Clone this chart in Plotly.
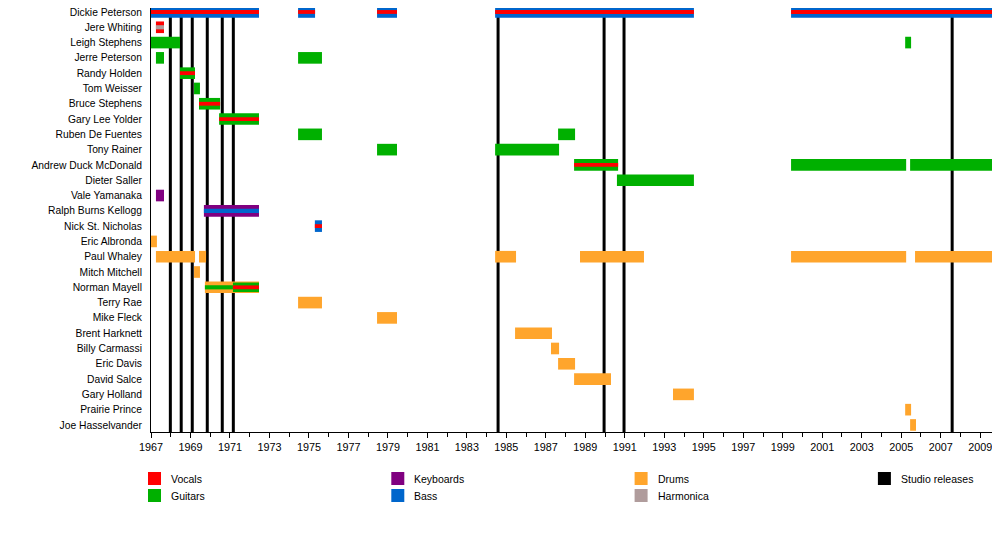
"""
Blue Cheer band member timeline, drawn as a horizontal bar timeline.
"""

import plotly.graph_objects as go

# Data

members = [
    "Dickie Peterson", "Jere Whiting", "Leigh Stephens", "Jerre Peterson",
    "Randy Holden", "Tom Weisser", "Bruce Stephens", "Gary Lee Yolder",
    "Ruben De Fuentes", "Tony Rainer", "Andrew Duck McDonald", "Dieter Saller",
    "Vale Yamanaka", "Ralph Burns Kellogg", "Nick St. Nicholas", "Eric Albronda",
    "Paul Whaley", "Mitch Mitchell", "Norman Mayell", "Terry Rae", "Mike Fleck",
    "Brent Harknett", "Billy Carmassi", "Eric Davis", "David Salce",
    "Gary Holland", "Prairie Prince", "Joe Hasselvander",
]

# (member, start, end) - main instrument, full bar height
main_bass = [
    ("Dickie Peterson", 1967.0, 1972.47),
    ("Dickie Peterson", 1974.45, 1975.31),
    ("Dickie Peterson", 1978.45, 1979.46),
    ("Dickie Peterson", 1984.43, 1994.5),
    ("Dickie Peterson", 1999.42, 2009.75),
    ("Nick St. Nicholas", 1975.3, 1975.66),
]
main_vocals = [
    ("Jere Whiting", 1967.25, 1967.66),
]
main_guitars = [
    ("Leigh Stephens", 1967.0, 1968.47),
    ("Leigh Stephens", 2005.2, 2005.5),
    ("Jerre Peterson", 1967.25, 1967.66),
    ("Jerre Peterson", 1974.45, 1975.66),
    ("Randy Holden", 1968.47, 1969.23),
    ("Tom Weisser", 1969.18, 1969.48),
    ("Bruce Stephens", 1969.43, 1970.5),
    ("Gary Lee Yolder", 1970.45, 1972.47),
    ("Ruben De Fuentes", 1974.45, 1975.66),
    ("Ruben De Fuentes", 1987.62, 1988.48),
    ("Tony Rainer", 1978.45, 1979.46),
    ("Tony Rainer", 1984.43, 1987.67),
    ("Andrew Duck McDonald", 1988.43, 1990.66),
    ("Andrew Duck McDonald", 1999.42, 2005.25),
    ("Andrew Duck McDonald", 2005.45, 2009.75),
    ("Dieter Saller", 1990.6, 1994.5),
]
main_keyboards = [
    ("Vale Yamanaka", 1967.25, 1967.66),
    ("Ralph Burns Kellogg", 1969.68, 1972.47),
]
main_drums = [
    ("Eric Albronda", 1967.0, 1967.3),
    ("Paul Whaley", 1967.25, 1969.23),
    ("Paul Whaley", 1969.43, 1969.79),
    ("Paul Whaley", 1984.43, 1985.49),
    ("Paul Whaley", 1988.73, 1991.97),
    ("Paul Whaley", 1999.42, 2005.25),
    ("Paul Whaley", 2005.7, 2009.75),
    ("Mitch Mitchell", 1969.18, 1969.48),
    ("Norman Mayell", 1969.73, 1972.47),
    ("Terry Rae", 1974.45, 1975.66),
    ("Mike Fleck", 1978.45, 1979.46),
    ("Brent Harknett", 1985.44, 1987.31),
    ("Billy Carmassi", 1987.26, 1987.67),
    ("Eric Davis", 1987.62, 1988.48),
    ("David Salce", 1988.43, 1990.3),
    ("Gary Holland", 1993.44, 1994.5),
    ("Prairie Prince", 2005.2, 2005.5),
    ("Joe Hasselvander", 2005.45, 2005.75),
]

# wider second band (guitar over drums)
band_guitars = [
    ("Norman Mayell", 1971.15, 1972.47),
]

# second instrument, thin stripe in the middle of the bar
stripe_vocals = [
    ("Dickie Peterson", 1967.0, 1972.47),
    ("Dickie Peterson", 1974.45, 1975.31),
    ("Dickie Peterson", 1978.45, 1979.46),
    ("Dickie Peterson", 1984.43, 1994.5),
    ("Dickie Peterson", 1999.42, 2009.75),
    ("Randy Holden", 1968.47, 1969.23),
    ("Bruce Stephens", 1969.43, 1970.5),
    ("Gary Lee Yolder", 1970.45, 1972.47),
    ("Andrew Duck McDonald", 1988.43, 1990.66),
    ("Nick St. Nicholas", 1975.3, 1975.66),
    ("Norman Mayell", 1971.15, 1972.47),
]
stripe_harmonica = [
    ("Jere Whiting", 1967.25, 1967.66),
]
stripe_bass = [
    ("Ralph Burns Kellogg", 1969.68, 1972.47),
]
stripe_guitars = [
    ("Norman Mayell", 1969.73, 1971.15),
]

studio_releases = [1967.98, 1968.53, 1969.09, 1969.85, 1970.61, 1971.17,
                   1984.58, 1989.95, 1990.96, 2007.58]

colors = {
    "Vocals": "#FF0000",
    "Guitars": "#00B000",
    "Keyboards": "#800080",
    "Bass": "#0066CC",
    "Drums": "#FFA52C",
    "Harmonica": "#B09C9C",
    "Studio releases": "#000000",
}

FONT = "Liberation Sans, Arial, sans-serif"


def add_spans(fig, spans, role, width):
    """Add one horizontal bar trace for a list of (member, start, end) spans"""
    if not spans:
        return
    fig.add_trace(
        go.Bar(
            y=[s[0] for s in spans],
            base=[s[1] for s in spans],
            x=[s[2] - s[1] for s in spans],
            orientation="h",
            width=width,
            marker=dict(color=colors[role], line=dict(width=0)),
            name=role,
            showlegend=False,
            hovertemplate="%{y}<br>" + role + "<extra></extra>",
        )
    )


fig = go.Figure()

# Main bars
add_spans(fig, main_bass, "Bass", 0.76)
add_spans(fig, main_vocals, "Vocals", 0.76)
add_spans(fig, main_guitars, "Guitars", 0.76)
add_spans(fig, main_keyboards, "Keyboards", 0.76)
add_spans(fig, main_drums, "Drums", 0.76)
add_spans(fig, band_guitars, "Guitars", 0.62)

# Stripes
add_spans(fig, stripe_guitars, "Guitars", 0.27)
add_spans(fig, stripe_vocals, "Vocals", 0.25)
add_spans(fig, stripe_harmonica, "Harmonica", 0.27)
add_spans(fig, stripe_bass, "Bass", 0.27)

# Studio releases, behind the bars
for yr in studio_releases:
    fig.add_vline(x=yr, line_color="black", line_width=3, layer="below")

# Legend, laid out by hand (4 columns x 2 rows)
# page pixel positions -> paper coords (page has an 8px body margin)
legend_cols = [
    ["Vocals", "Guitars"],
    ["Keyboards", "Bass"],
    ["Drums", "Harmonica"],
    ["Studio releases"],
]
plot_left, plot_w = 151, 844
plot_bottom, plot_h = 432, 424


def px_x(px):
    return (px - plot_left) / plot_w


def px_y(py):
    return (plot_bottom - py) / plot_h


for ci, col in enumerate(legend_cols):
    x0 = 148 + ci * 243.3
    for ri, role in enumerate(col):
        y0 = 472 + ri * 17
        fig.add_shape(
            type="rect", xref="paper", yref="paper",
            x0=px_x(x0), x1=px_x(x0 + 13),
            y0=px_y(y0), y1=px_y(y0 + 13),
            fillcolor=colors[role], line=dict(width=0),
        )
        fig.add_annotation(
            xref="paper", yref="paper",
            x=px_x(x0 + 21), y=px_y(y0 + 7),
            text=role, showarrow=False,
            xanchor="left", yanchor="middle",
            font=dict(family=FONT, size=10.5, color="black"),
        )

fig.update_layout(
    barmode="overlay",
    width=992,
    height=542,
    margin=dict(l=143, r=5, t=0, b=118),
    plot_bgcolor="white",
    paper_bgcolor="white",
    showlegend=False,
    font=dict(family=FONT, size=10.5, color="black"),
)

fig.update_xaxes(
    range=[1967, 2009.75],
    tick0=1967,
    dtick=2,
    ticks="outside",
    ticklen=5,
    tickcolor="black",
    showgrid=False,
    zeroline=False,
    showline=True,
    linecolor="black",
    linewidth=1,
    minor=dict(dtick=1, tick0=1967, ticks="outside", ticklen=4, tickcolor="black"),
    tickfont=dict(family=FONT, size=10.8, color="black"),
)

fig.update_yaxes(
    type="category",
    categoryorder="array",
    categoryarray=members,
    range=[len(members) - 0.54, -0.26],
    showgrid=False,
    zeroline=False,
    showline=True,
    linecolor="black",
    linewidth=1,
    ticks="",
    ticklabelstandoff=6,
    tickfont=dict(family=FONT, size=10.3, color="black"),
)

fig.write_html("out.html")
